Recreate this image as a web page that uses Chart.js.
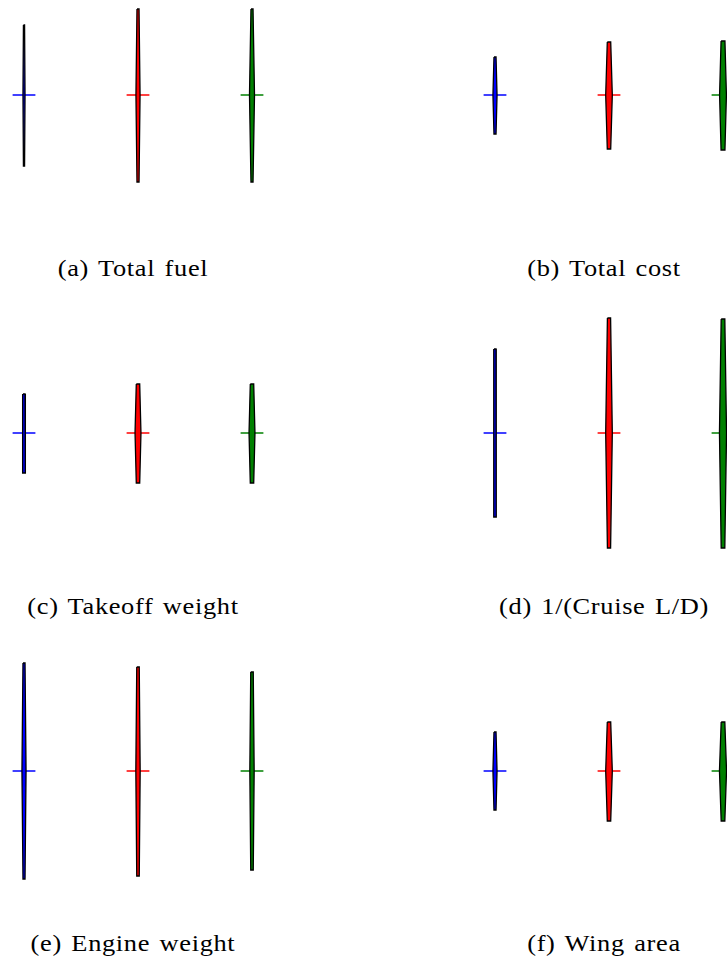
<!DOCTYPE html>
<html>
<head>
<meta charset="utf-8">
<script src="https://cdn.jsdelivr.net/npm/chart.js@4.4.1/dist/chart.umd.min.js"></script>
<style>
  html, body { margin: 0; padding: 0; background: #fff; overflow: hidden; }
  #fig { position: relative; width: 727px; height: 962px; overflow: hidden; background: #fff; }
  canvas { position: absolute; }
  .cap { position: absolute; width: 320px; text-align: center; font-family: "Liberation Serif", "DejaVu Serif", serif;
         font-size: 24px; color: #000; line-height: 30px; white-space: nowrap;
         letter-spacing: 0.6px; word-spacing: 2px; transform: scaleX(1.1); transform-origin: 50% 50%; }
</style>
</head>
<body>
<div id="fig"></div>
<script>
// ---------- data ----------
const panelTitles = ["(a) Total fuel", "(b) Total cost", "(c) Takeoff weight",
                     "(d) 1/(Cruise L/D)", "(e) Engine weight", "(f) Wing area"];
const groups = [1, 2, 3];               // violin positions
const groupColors = ["#0000ff", "#ff0000", "#008000"];

// per panel, per violin: extreme values (relative to median = 0)
const medians = [
  [0, 0, 0], [0, 0, 0], [0, 0, 0], [0, 0, 0], [0, 0, 0], [0, 0, 0]
];
const maxima = [
  [0.70, 0.86, 0.86],
  [0.38, 0.53, 0.54],
  [0.39, 0.49, 0.49],
  [0.84, 1.15, 1.14],
  [1.08, 1.04, 0.99],
  [0.39, 0.49, 0.49]
];
const minima = [
  [-0.71, -0.87, -0.87],
  [-0.39, -0.54, -0.55],
  [-0.40, -0.50, -0.50],
  [-0.84, -1.15, -1.15],
  [-1.08, -1.05, -0.99],
  [-0.39, -0.50, -0.50]
];
// violin body half-width (density) at the median and at the extremes
const widthAtMedian = [
  [0.009, 0.018, 0.022],
  [0.018, 0.029, 0.030],
  [0.015, 0.026, 0.026],
  [0.013, 0.029, 0.031],
  [0.018, 0.019, 0.019],
  [0.018, 0.029, 0.031]
];
const widthAtEnds = [
  [0.005, 0.009, 0.009],
  [0.009, 0.015, 0.017],
  [0.009, 0.015, 0.015],
  [0.009, 0.014, 0.016],
  [0.009, 0.011, 0.011],
  [0.009, 0.015, 0.016]
];
const medianHalfLength = 0.1;

// ---------- layout ----------
const rowCenters = [95, 433, 771];
const colLefts = [0, 471];
const capCenters = [132.5, 603.5];
const capTops = [253, 591, 928];
const canvasW = 364, canvasH = 260;
const xMin = 1 - 24 / 114, xMax = xMin + canvasW / 114;

const fig = document.getElementById('fig');

panelTitles.forEach((title, p) => {
  const row = Math.floor(p / 2), col = p % 2;
  const cv = document.createElement('canvas');
  cv.width = canvasW; cv.height = canvasH;
  cv.style.left = colLefts[col] + 'px';
  cv.style.top = (rowCenters[row] - canvasH / 2) + 'px';
  cv.style.width = canvasW + 'px'; cv.style.height = canvasH + 'px';
  fig.appendChild(cv);

  const datasets = [];
  groups.forEach((g, i) => {
    const m = medians[p][i], hi = maxima[p][i], lo = minima[p][i];
    const wm = widthAtMedian[p][i], we = widthAtEnds[p][i];
    const body = [
      {x: g - we, y: hi}, {x: g + we, y: hi}, {x: g + wm, y: m},
      {x: g + we, y: lo}, {x: g - we, y: lo}, {x: g - wm, y: m},
      {x: g - we, y: hi}
    ];
    datasets.push({
      data: body, showLine: true, fill: 'shape', tension: 0,
      backgroundColor: groupColors[i], borderColor: '#000', borderWidth: 1.3,
      pointRadius: 0, order: 1, borderJoinStyle: 'miter'
    });
    datasets.push({
      data: [{x: g - medianHalfLength, y: m}, {x: g + medianHalfLength, y: m}],
      showLine: true, fill: false, borderColor: groupColors[i], borderWidth: 1.5,
      pointRadius: 0, order: 2
    });
  });

  new Chart(cv, {
    type: 'scatter',
    data: { datasets },
    options: {
      responsive: false, animation: false, devicePixelRatio: 1,
      layout: { padding: 0 },
      plugins: { legend: { display: false }, tooltip: { enabled: false }, title: { display: false } },
      scales: {
        x: { type: 'linear', display: false, min: xMin, max: xMax },
        y: { type: 'linear', display: false, min: -1.3, max: 1.3 }
      },
      events: []
    }
  });

  const cap = document.createElement('div');
  cap.className = 'cap';
  cap.textContent = title;
  cap.style.left = (capCenters[col] - 160) + 'px';
  cap.style.top = capTops[row] + 'px';
  fig.appendChild(cap);
});
</script>
</body>
</html>
